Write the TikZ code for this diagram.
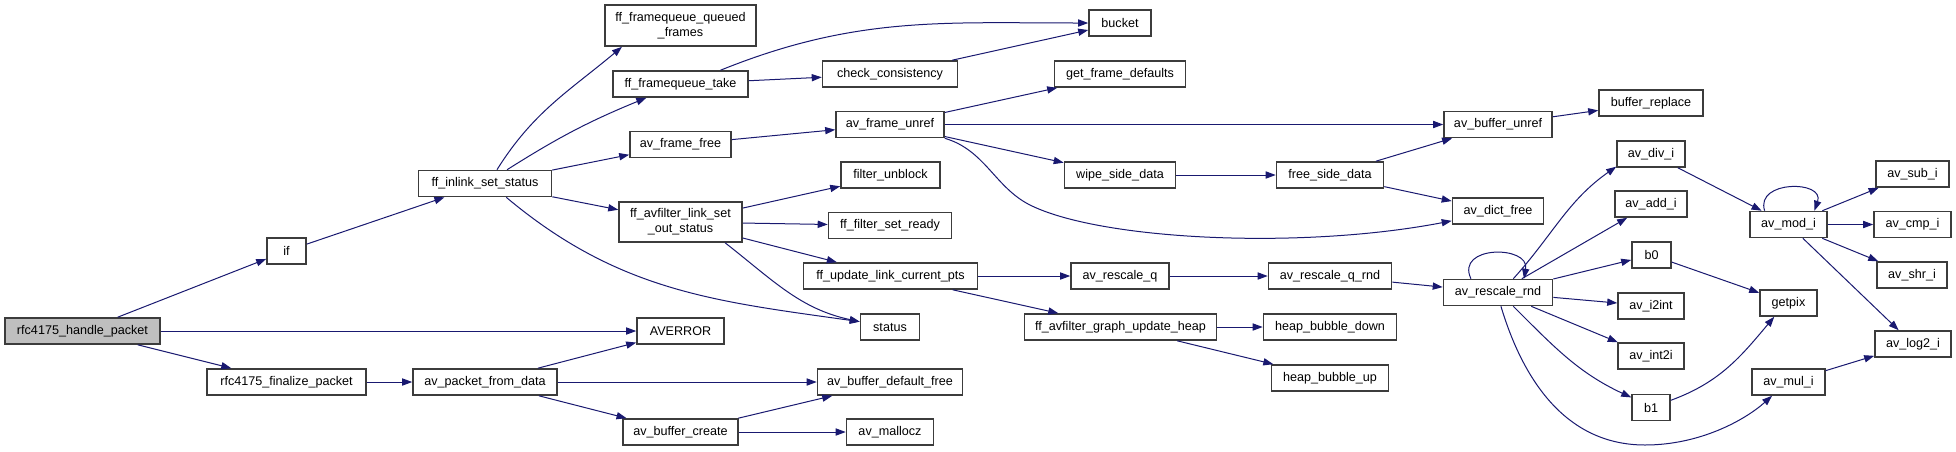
\documentclass[tikz,border=0pt]{standalone}
\usepackage{fontspec}
\setmainfont{Liberation Sans}
\usetikzlibrary{arrows.meta}
\definecolor{DoxEdge}{HTML}{191970}
\definecolor{DoxBorder}{HTML}{3C3C3C}
\definecolor{DoxRoot}{HTML}{BFBFBF}

\begin{document}
\begin{tikzpicture}[x=0.5pt,y=-0.5pt,
    fn/.style={draw=DoxBorder,line width=0.8pt,fill=white,inner sep=0pt,minimum height=13pt,font=\fontsize{6.3}{7.5}\selectfont},
    call/.style={-{Triangle[length=5pt,width=3.6pt]},line width=0.5pt,color=DoxEdge}
  ]
    \fill[white] (0,0) rectangle (1956,451);
    \useasboundingbox (0,0) rectangle (1956,451);
    % boxes
    \node[fn,fill=DoxRoot,minimum width=77.5pt] (root) at (82.5,331) {rfc4175\_handle\_packet};
    \foreach \n/\x/\y/\w/\txt in {
        if/286.5/251/39/if, fin/286.5/382/159/rfc4175\_finalize\_packet,
        inlink/485/183.5/133/ff\_inlink\_set\_status, fromdata/485/382/144/av\_packet\_from\_data,
        take/680.5/84/135/ff\_framequeue\_take, framefree/680.5/144.5/101/av\_frame\_free,
        averror/680.5/331/87/AVERROR, create/680.5/432/115/av\_buffer\_create,
        check/890/74/135/check\_consistency, unref/890/124.5/108/av\_frame\_unref,
        unblock/890.5/175/99/filter\_unblock, ready/890/225.5/123/ff\_filter\_set\_ready,
        pts/890.5/276/174/ff\_update\_link\_current\_pts, status/890/327/59/status,
        deffree/890/382/145/av\_buffer\_default\_free, mallocz/890/432/87/av\_mallocz,
        bucket/1120/23/62/bucket, defaults/1120/74/131/get\_frame\_defaults,
        wipe/1120/175/111/wipe\_side\_data, rescaleq/1120/276/98/av\_rescale\_q,
        heap/1120.5/327/192/ff\_avfilter\_graph\_update\_heap,
        freeside/1330/175/107/free\_side\_data, rescaleqrnd/1330/276/123/av\_rescale\_q\_rnd,
        bubdown/1330/327/133/heap\_bubble\_down, bubup/1330/378/117/heap\_bubble\_up,
        bufunref/1498/124.5/108/av\_buffer\_unref, dictfree/1498/211/91/av\_dict\_free,
        rescalernd/1498/292.5/109/av\_rescale\_rnd,
        replace/1651/103/104/buffer\_replace, divi/1651/154/68/av\_div\_i,
        addi/1651/204/72/av\_add\_i, b0/1651.5/255/39/b0, i2int/1651/306/66/av\_i2int,
        int2i/1651/356/66/av\_int2i, b1/1651/407.5/38/b1,
        modi/1788.5/224.5/77/av\_mod\_i, getpix/1788.5/303/57/getpix, muli/1788.5/382/73/av\_mul\_i,
        subi/1912.5/174/73/av\_sub\_i, cmpi/1912.5/224.5/77/av\_cmp\_i,
        shri/1912/275/70/av\_shr\_i, log2i/1913/344/76/av\_log2\_i}
      \node[fn,minimum width=\w*0.5pt] (\n) at (\x,\y) {\txt};
    \node[fn,minimum width=75.5pt,minimum height=20.5pt,align=center] (queued) at (680.5,25.5) {ff\_framequeue\_queued\\\_frames};
    \node[fn,minimum width=61.5pt,minimum height=20pt,align=center] (outstatus) at (680.5,222) {ff\_avfilter\_link\_set\\\_out\_status};
    % straight calls
    \foreach \a/\b in {root/if,root/averror,root/fin,if/inlink,inlink/framefree,inlink/outstatus,
        take/check,check/bucket,framefree/unref,unref/defaults,unref/bufunref,unref/wipe,
        bufunref/replace,wipe/freeside,freeside/bufunref,freeside/dictfree,
        outstatus/unblock,outstatus/ready,outstatus/pts,pts/rescaleq,pts/heap,
        rescaleq/rescaleqrnd,rescaleqrnd/rescalernd,rescalernd/addi,rescalernd/b0,
        rescalernd/i2int,rescalernd/int2i,divi/modi,modi/subi,modi/cmpi,modi/shri,
        modi/log2i,b0/getpix,muli/log2i,heap/bubdown,heap/bubup,fin/fromdata,
        fromdata/averror,fromdata/deffree,fromdata/create,create/deffree,create/mallocz}
      \draw[call] (\a) -- (\b);
    % curved calls
    \draw[call] (inlink) to[bend left=5] (take);
    \draw[call] (inlink.49) to[out=58,in=-140] (queued.-160);
    \draw[call] (inlink.-33) to[out=-40,in=172] (status.170);
    \draw[call] (outstatus.-25) to[out=-38,in=168] (status.170);
    \draw[call] (take.19) to[out=22,in=180] (bucket.west);
    \draw[call] (unref.south east) .. controls (985,150) and (995,187.5) .. (1030,205)
        .. controls (1100,240) and (1300,250) .. (dictfree.-168);
    \draw[call] (rescalernd.153) .. controls (1455,245) and (1530,245) .. (rescalernd.28);
    \draw[call] (modi.150) .. controls (1755,180) and (1825,180) .. (modi.28);
    \draw[call] (rescalernd.42) to[out=48,in=-145] (divi.-160);
    \draw[call] (rescalernd.-42) to[out=-45,in=155] (b1.153);
    \draw[call] (b1.20) to[out=20,in=-130] (getpix.-136);
    \draw[call] (rescalernd.-78) .. controls (1520,370) and (1560,445) .. (1645,445)
        .. controls (1700,445) and (1745,420) .. (muli.-140);
  \end{tikzpicture}
\end{document}
